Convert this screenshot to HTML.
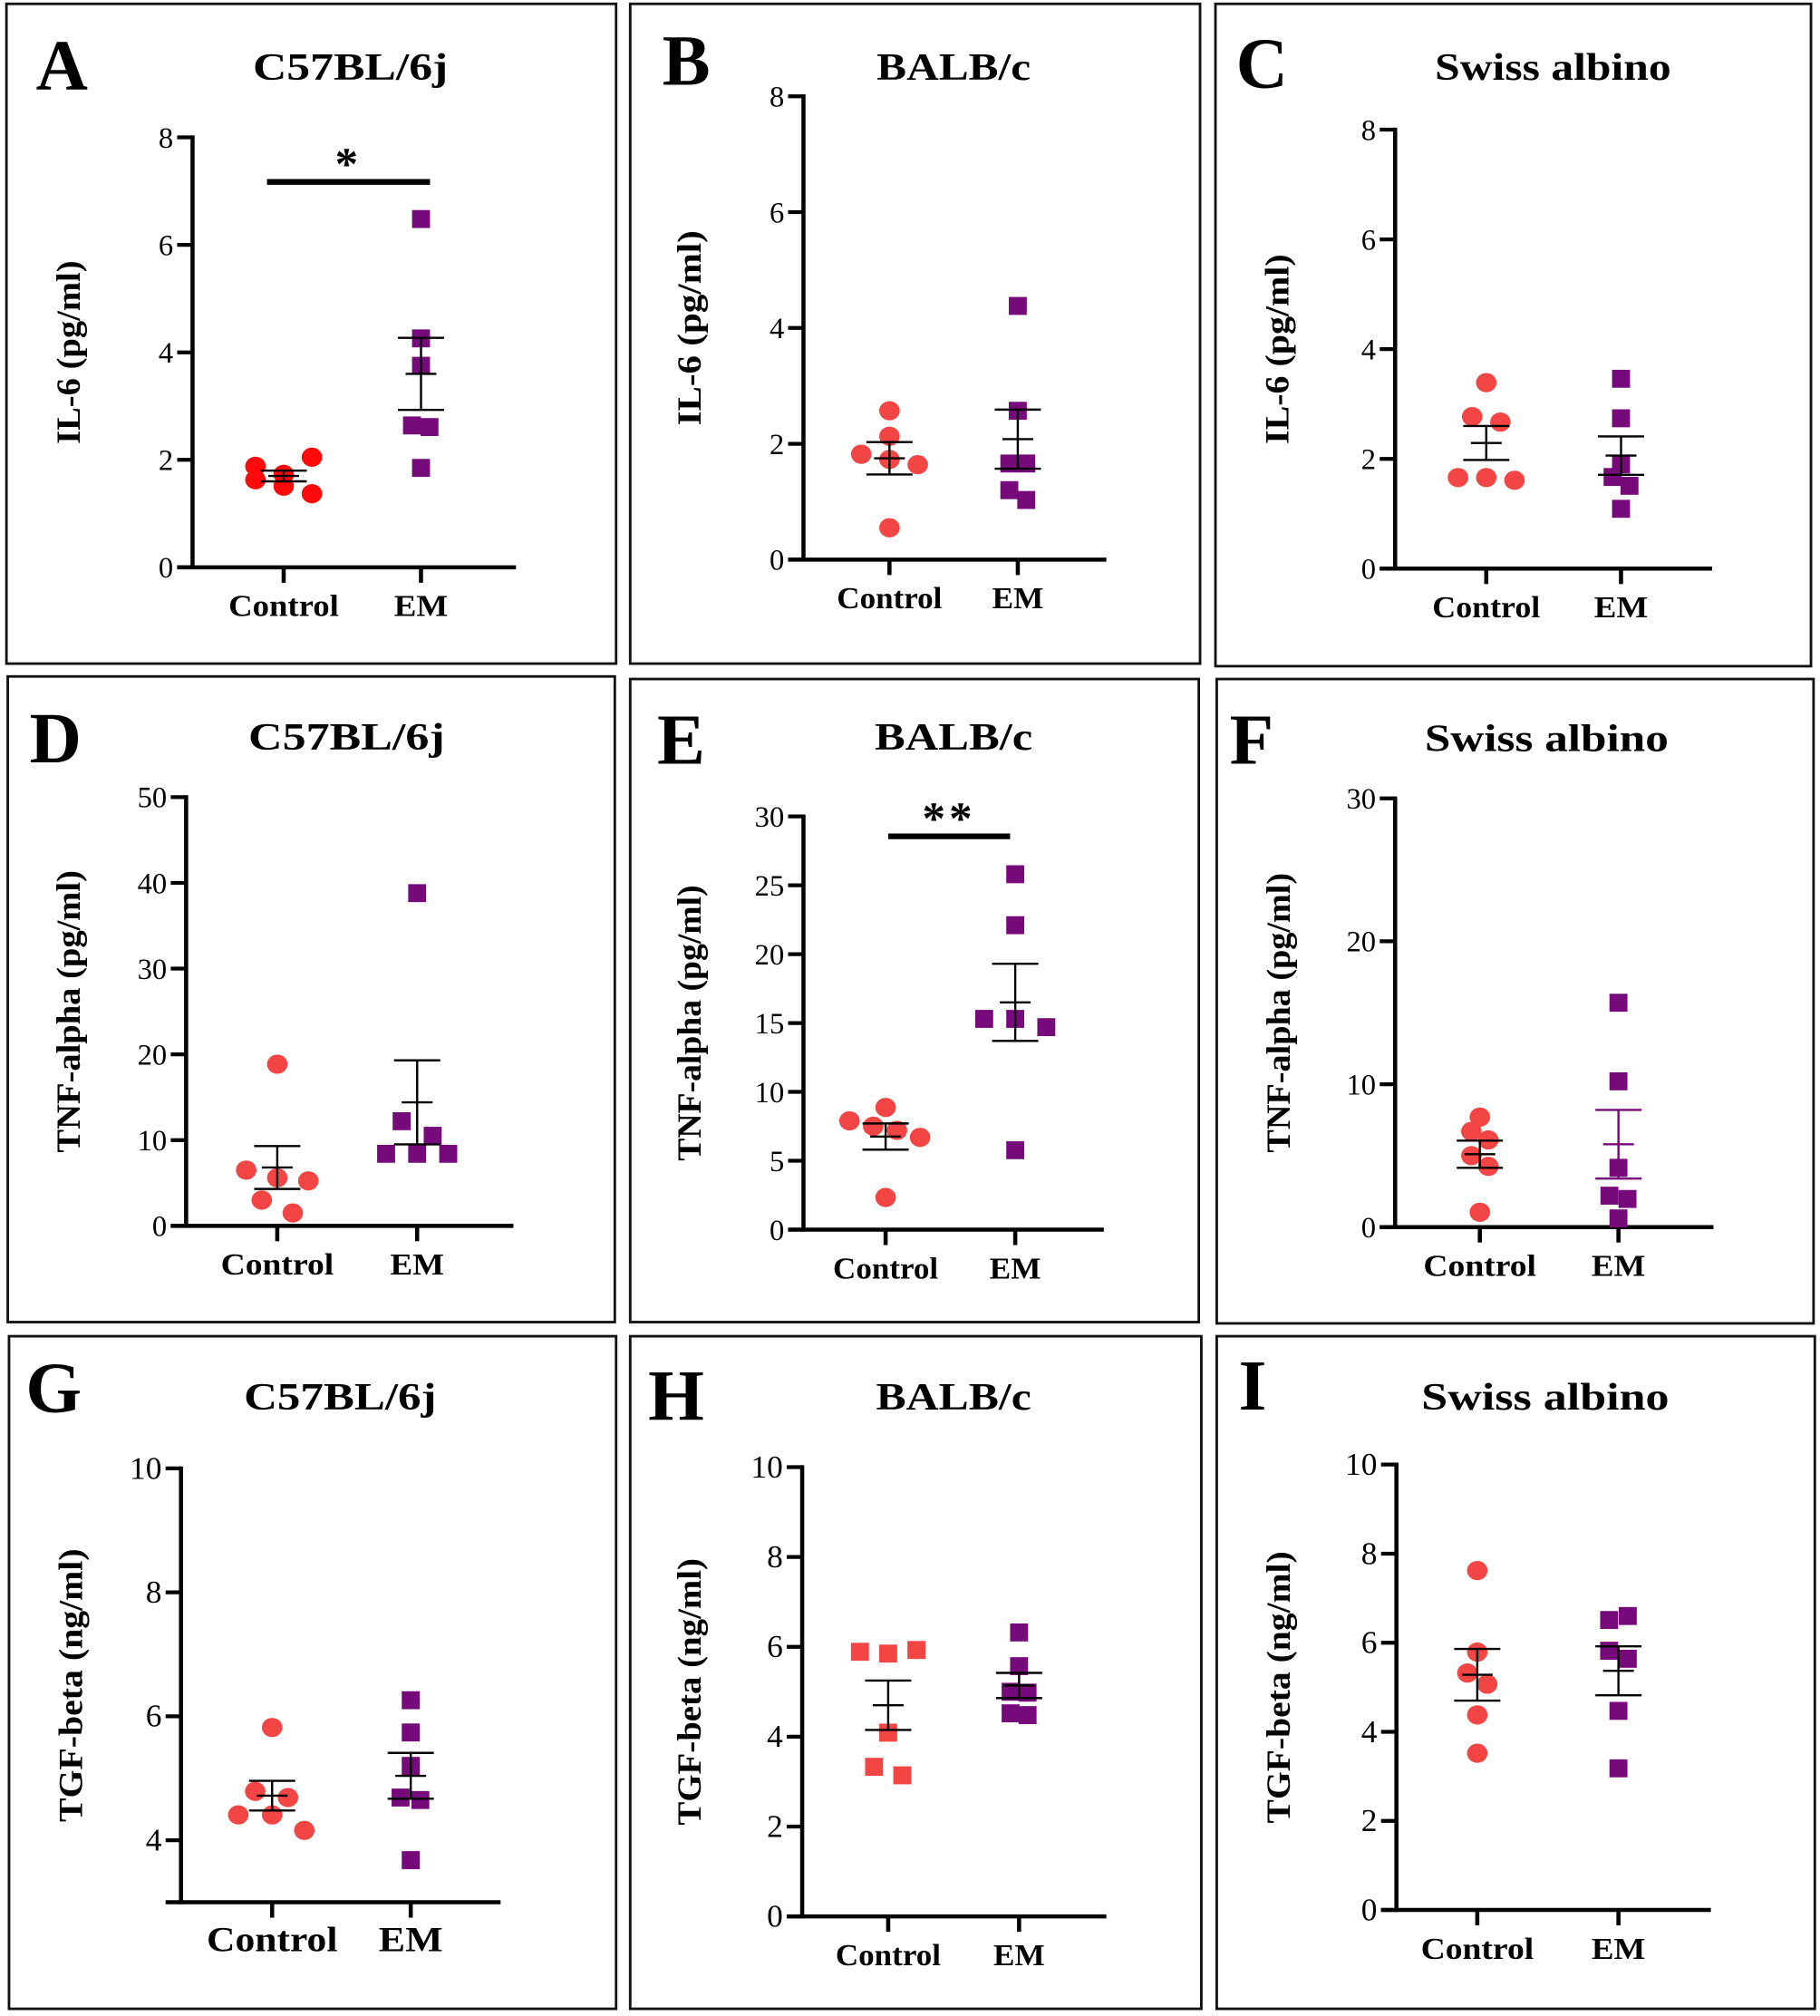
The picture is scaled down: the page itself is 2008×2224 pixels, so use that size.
<!DOCTYPE html>
<html><head><meta charset="utf-8">
<style>
html,body{margin:0;padding:0;background:#fff;}
svg{display:block;}
text{font-family:"Liberation Serif","Times New Roman","DejaVu Serif",serif;fill:#000;}
</style></head>
<body>
<svg id="fig" width="2008" height="2224" viewBox="0 0 1418 1570.6" xmlns="http://www.w3.org/2000/svg"></svg>
<script>
// ---- data ----
const groups = ["Control", "EM"];
const panelLetters = ["A","B","C","D","E","F","G","H","I"];
const strains = ["C57BL/6j","BALB/c","Swiss albino","C57BL/6j","BALB/c","Swiss albino","C57BL/6j","BALB/c","Swiss albino"];
const yTitles = ["IL-6 (pg/ml)","IL-6 (pg/ml)","IL-6 (pg/ml)","TNF-alpha (pg/ml)","TNF-alpha (pg/ml)","TNF-alpha (pg/ml)","TGF-beta (ng/ml)","TGF-beta (ng/ml)","TGF-beta (ng/ml)"];
const yTicksA = [0,2,4,6,8];
const yTicksD = [0,10,20,30,40,50];
const yTicksE = [0,5,10,15,20,25,30];
const yTicksF = [0,10,20,30];
const yTicksG = [4,6,8,10];
const yTicksH = [0,2,4,6,8,10];
const ctrlA = [1.88,1.63,1.73,1.51,2.05,1.37];
const emA = [6.48,4.26,3.75,2.64,2.61,1.85];
const ctrlB = [2.57,2.13,1.82,1.73,1.64,0.55];
const emB = [4.38,2.57,1.66,1.66,1.2,1.03];
const ctrlC = [3.39,2.77,2.67,1.66,1.66,1.61];
const emC = [3.46,2.74,1.9,1.67,1.51,1.09];
const ctrlD = [18.85,6.5,5.6,5.24,3.0,1.5];
const emD = [38.8,12.2,10.5,8.4,8.4,8.4];
const ctrlE = [8.87,7.9,7.51,7.21,6.7,2.34];
const emE = [25.8,22.1,15.3,15.3,14.7,5.77];
const ctrlF = [7.7,6.7,6.1,5.0,4.25,1.04];
const emF = [15.7,10.2,4.15,2.2,1.97,0.61];
const ctrlG = [5.82,4.79,4.69,4.41,4.41,4.16];
const emG = [6.26,5.74,5.2,4.69,4.65,3.68];
const ctrlH = [5.89,5.85,5.93,4.09,3.33,3.14];
const emH = [6.32,5.57,5.0,4.98,4.52,4.48];
const ctrlI = [7.62,5.79,5.32,5.07,4.38,3.52];
const emI = [6.51,6.6,5.82,5.64,4.47,3.18];
// dodge slot (column) of each point within its group, in marker-spacing units
const slotCtrlA=[-1,-1,0,0,1,1], slotEmA=[0,0,0,-0.32,0.3,0];
const slotCtrlB=[0,0,-1,0,1,0], slotEmB=[0,0,-0.3,0.3,-0.3,0.3];
const slotCtrlC=[0,-0.5,0.5,-1,0,1], slotEmC=[0,0,0,-0.3,0.3,0];
const slotCtrlD=[0,-1.1,0,1.1,-0.55,0.55], slotEmD=[0,-0.55,0.55,-1.1,0,1.1];
const slotCtrlE=[0,-1.28,-0.44,0.4,1.22,0], slotEmE=[0,0,-1.1,0,1.1,0];
const slotCtrlF=[0,-0.3,0.3,-0.3,0.3,0], slotEmF=[0,0,0,-0.32,0.32,0];
const slotCtrlG=[0,-0.6,0.56,-1.2,0,1.14], slotEmG=[0,0,0,-0.36,0.34,0];
const slotCtrlH=[-1,0,1,0,-0.5,0.5], slotEmH=[0,0,-0.3,0.3,-0.3,0.3];
const slotCtrlI=[0,0,-0.35,0.35,0,0], slotEmI=[-0.33,0.33,-0.33,0.33,0,0];
const meanCtrl = [1.7,1.75,2.29,6.8,6.76,5.1,4.72,4.7,5.28];
const semCtrl = [0.1,0.28,0.31,2.5,0.95,0.95,0.24,0.55,0.58];
const meanEM = [3.6,2.08,2.06,14.4,16.5,5.8,5.04,5.14,5.37];
const semEM = [0.67,0.51,0.35,4.9,2.8,2.4,0.37,0.28,0.55];
const sigLabels = ["*","","","","**","","","",""];
const sigHeights = [7.17,0,0,0,28.55,0,0,0,0];
// ---- layout ----
const ctrlSets=[ctrlA,ctrlB,ctrlC,ctrlD,ctrlE,ctrlF,ctrlG,ctrlH,ctrlI];
const emSets=[emA,emB,emC,emD,emE,emF,emG,emH,emI];
const ctrlSlots=[slotCtrlA,slotCtrlB,slotCtrlC,slotCtrlD,slotCtrlE,slotCtrlF,slotCtrlG,slotCtrlH,slotCtrlI];
const emSlots=[slotEmA,slotEmB,slotEmC,slotEmD,slotEmE,slotEmF,slotEmG,slotEmH,slotEmI];
const tickSets=[yTicksA,yTicksA,yTicksA,yTicksD,yTicksE,yTicksF,yTicksG,yTicksH,yTicksH];
const yMin=[0,0,0,0,0,0,3,0,0];
const boxes=[[5,3,475,514],[491,3,444,514],[947,3,464,516],[6,527,473,503],[491,529,443,501],[948,529,465,502],[7,1041,473,524],[491,1041,445,524],[948,1041,466,524]];
const axes=[
[150,442,107,402,221,328],[626,436,75,862,693,793],[1087,443,101,1334,1158,1263],
[145,955,621,400,216,325],[626,958,636,860,690,791],[1087,956,622,1335,1153,1261],
[141,1482,1144,390,212,320],[625,1493,1143,862,692,794],[1088,1488,1141,1333,1151,1261]];
const titlePos=[[273,62,152],[743,62,120],[1210,62,184],[270,584,153],[743,584,123],[1205,585,190],[265,1098,150],[743,1098,121],[1204,1098,193]];
const letterPos=[[28,70],[516,66],[963,68],[23,594],[512,595],[958,595],[20,1100],[505,1106],[965,1098]];
const yTitleX=[53,537,995,53,537,996,55,537,996];
const yTitleLen=[143,152,148,220,215,218,213,208,212];
const ctrlColor=["#ff0a0a","#f44545","#f44545","#f44545","#f44545","#f44545","#f44545","#f44545","#f44545"];
const ctrlSquare=[false,false,false,false,false,false,false,true,false];
const xLabelSize=[24,24,24,24,24,24,28,24,24];
const xLabelLen=[[86,42],[82,40],[84,42],[88,42],[82,40],[88,42],[102,50],[82,40],[88,42]];
const purple="#760a7a";
const SERIF='"Liberation Serif","Times New Roman","DejaVu Serif",serif';
const NS="http://www.w3.org/2000/svg";
const svg=document.getElementById('fig');
function mk(tag,attrs,parent){const e=document.createElementNS(NS,tag);for(const k in attrs)e.setAttribute(k,attrs[k]);if(tag==='text'&&!attrs['font-family'])e.setAttribute('font-family',SERIF);(parent||svg).appendChild(e);return e;}

for(let p=0;p<9;p++){
  const g=mk('g',{});
  
  
  const [bx,by,bw,bh]=boxes[p];
  const frame=mk('rect',{x:bx,y:by,width:bw,height:bh,fill:'none',stroke:'#111','stroke-width':2},g);
  
  
  const [ax,yb,yt,xe,cx,ex]=axes[p];
  const ticks=tickSets[p];
  const vmin=yMin[p], vmax=ticks[ticks.length-1];
  const yS=v=>yb-(v-vmin)/(vmax-vmin)*(yb-yt);
  const L=mk('text',{x:letterPos[p][0],y:letterPos[p][1],'font-size':56,'font-weight':'bold'},g);L.textContent=panelLetters[p];
  
  
  const [tx,ty,tw]=titlePos[p];
  const T=mk('text',{x:tx-tw/2,y:ty,'font-size':30,'font-weight':'bold',textLength:tw,lengthAdjust:'spacingAndGlyphs'},g);T.textContent=strains[p];
  
  
  const ytc=(yb+yt)/2;
  const yl=yTitleLen[p];
  const YT=mk('text',{x:-yl/2,y:0,'font-size':26,'font-weight':'bold',textLength:yl,lengthAdjust:'spacingAndGlyphs',transform:`translate(${yTitleX[p]+9},${ytc}) rotate(-90)`},g);YT.textContent=yTitles[p];
  
  
  const axL=mk('line',{x1:ax,y1:yt-1.5,x2:ax,y2:yb+1.5,stroke:'#000','stroke-width':3.2},g);
  
  
  const axB=mk('line',{x1:ax-12,y1:yb,x2:xe,y2:yb,stroke:'#000','stroke-width':3.2},g);
  
  
  ticks.forEach(t=>{
    const y=yS(t);
    mk('line',{x1:ax-12,y1:y,x2:ax,y2:y,stroke:'#000','stroke-width':3},g);
    const tl=mk('text',{x:ax-15,y:y+8,'font-size':p>=6?25:23,'text-anchor':'end'},g);tl.textContent=t;
    
    
  });
  [cx,ex].forEach((x,i)=>{
    mk('line',{x1:x,y1:yb,x2:x,y2:yb+12,stroke:'#000','stroke-width':3.2},g);
    const w=xLabelLen[p][i];
    const xl=mk('text',{x:x-w/2,y:yb+38,'font-size':xLabelSize[p],'font-weight':'bold',textLength:w,lengthAdjust:'spacingAndGlyphs'},g);xl.textContent=groups[i];
    
    
  });
  const sets=[[ctrlSets[p],ctrlSlots[p],cx,ctrlColor[p],ctrlSquare[p]],[emSets[p],emSlots[p],ex,purple,true]];
  sets.forEach(([vals,slots,x0,col,sq],gi)=>{
    vals.forEach((v,i)=>{
      const y=yS(v);const x=x0+(slots[i]||0)*22;
      let m;
      if(sq)m=mk('rect',{x:x-7,y:y-7,width:14,height:14,fill:col},g);
      else m=mk('ellipse',{cx:x,cy:y,rx:8,ry:7.5,fill:col},g);
      
      
    });
  });
  [[meanCtrl[p],semCtrl[p],cx],[meanEM[p],semEM[p],ex]].forEach(([mn,se,x],gi)=>{
    const e=mk('g',{stroke:(p===5&&gi)?purple:'#000','stroke-width':1.7},g);
    
    
    mk('line',{x1:x-12,y1:yS(mn),x2:x+12,y2:yS(mn)},e);
    mk('line',{x1:x-18,y1:yS(mn+se),x2:x+18,y2:yS(mn+se)},e);
    mk('line',{x1:x-18,y1:yS(mn-se),x2:x+18,y2:yS(mn-se)},e);
    mk('line',{x1:x,y1:yS(mn+se),x2:x,y2:yS(mn-se)},e);
  });
  if(sigLabels[p]){
    const sy=yS(sigHeights[p]);
    const x1=p===0?cx-13:cx+2, x2=p===0?ex+7:ex-4;
    const sb=mk('line',{x1:x1,y1:sy,x2:x2,y2:sy,stroke:'#000','stroke-width':4.5},g);
    
    
    const st=mk('text',{x:(x1+x2)/2,y:sy-2,'font-size':36,'font-weight':'bold','text-anchor':'middle','font-family':'"Liberation Sans",sans-serif','letter-spacing':3},g);
    st.textContent=sigLabels[p];
    
    
  }
}
</script>
</body></html>
